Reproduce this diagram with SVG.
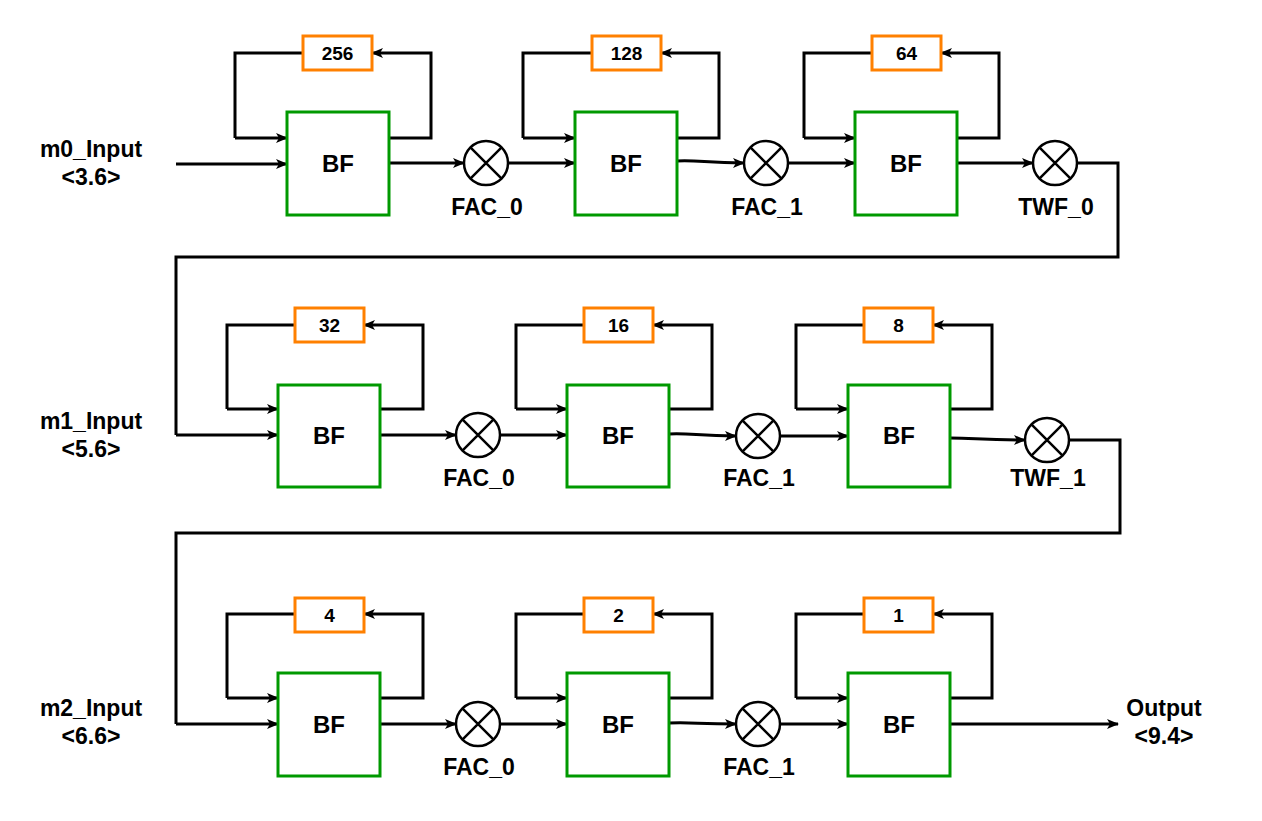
<svg xmlns="http://www.w3.org/2000/svg" width="1262" height="821" viewBox="0 0 1262 821">
<defs>
<marker id="ah" viewBox="0 0 12 10" refX="11" refY="5" markerWidth="12" markerHeight="10" markerUnits="userSpaceOnUse" orient="auto">
<path d="M0,0 L12,5 L0,10 L3,5 Z" fill="#000"/>
</marker>
<style>
.bf{fill:#fff;stroke:#009900;stroke-width:3}
.dl{fill:#fff;stroke:#ff8000;stroke-width:3}
.w{fill:none;stroke:#000;stroke-width:3}
.a{fill:none;stroke:#000;stroke-width:3;marker-end:url(#ah)}
.m{fill:#fff;stroke:#000;stroke-width:2.5}
text{font-family:"Liberation Sans",Arial,sans-serif;font-weight:bold;fill:#000;text-anchor:middle}
.t1{font-size:24px}
.t2{font-size:19px}
.t3{font-size:23px}
</style>
</defs>
<rect width="1262" height="821" fill="#fff"/>

<g id="connectors">
<!-- row 1 -->
<path class="a" d="M176,164 H287"/>
<path class="w" d="M303,53 H235 V138"/><path class="a" d="M235,138 H287"/>
<path class="a" d="M389,138 H431 V53 H372"/>
<path class="a" d="M389,163 H464"/>
<path class="a" d="M508,163 H575"/>
<path class="w" d="M592,53 H523 V138"/><path class="a" d="M523,138 H575"/>
<path class="a" d="M677,138 H719 V53 H661"/>
<path class="a" d="M677,161 C700,160 705,163 744,163"/>
<path class="a" d="M788,163 H855"/>
<path class="w" d="M872,53 H804 V138"/><path class="a" d="M804,138 H855"/>
<path class="a" d="M957,138 H999 V53 H941"/>
<path class="a" d="M957,163 H1033"/>
<path class="w" d="M1077,163 H1118 V257 H176 V435"/>
<!-- row 2 -->
<path class="a" d="M176,435 H278"/>
<path class="w" d="M295,325 H227 V409"/><path class="a" d="M227,409 H278"/>
<path class="a" d="M380,409 H423 V325 H364"/>
<path class="a" d="M380,435 H456"/>
<path class="a" d="M500,435 H567"/>
<path class="w" d="M584,325 H516 V409"/><path class="a" d="M516,409 H567"/>
<path class="a" d="M669,409 H712 V325 H653"/>
<path class="a" d="M669,434 C692,433 697,436 736,436"/>
<path class="a" d="M780,436 H848"/>
<path class="w" d="M864,325 H796 V409"/><path class="a" d="M796,409 H848"/>
<path class="a" d="M950,409 H992 V325 H933"/>
<path class="a" d="M950,438 C975,438 980,440 1025,440"/>
<path class="w" d="M1069,440 H1120 V533 H176 V724"/>
<!-- row 3 -->
<path class="a" d="M176,724 H278"/>
<path class="w" d="M295,614 H227 V698"/><path class="a" d="M227,698 H278"/>
<path class="a" d="M380,698 H423 V614 H364"/>
<path class="a" d="M380,724 H456"/>
<path class="a" d="M500,724 H567"/>
<path class="w" d="M584,614 H516 V698"/><path class="a" d="M516,698 H567"/>
<path class="a" d="M669,698 H712 V614 H653"/>
<path class="a" d="M669,723 C692,722 697,724 736,724"/>
<path class="a" d="M780,724 H848"/>
<path class="w" d="M864,614 H796 V698"/><path class="a" d="M796,698 H848"/>
<path class="a" d="M950,698 H992 V614 H933"/>
<path class="a" d="M950,724 H1118"/>
</g>

<!-- labels -->
<g id="lbl-m0"><text class="t3" x="91" y="157">m0_Input</text><text class="t3" x="91" y="185">&lt;3.6&gt;</text></g>
<g id="lbl-m1"><text class="t3" x="91" y="429">m1_Input</text><text class="t3" x="91" y="457">&lt;5.6&gt;</text></g>
<g id="lbl-m2"><text class="t3" x="91" y="716">m2_Input</text><text class="t3" x="91" y="744">&lt;6.6&gt;</text></g>
<g id="lbl-out"><text class="t3" x="1164" y="716">Output</text><text class="t3" x="1164" y="744">&lt;9.4&gt;</text></g>

<!-- row 1 nodes -->
<g id="bf1"><rect class="bf" x="287" y="112" width="102" height="103"/><text class="t1" x="338" y="172">BF</text></g>
<g id="d256"><rect class="dl" x="303" y="36" width="69" height="34"/><text class="t2" x="337.5" y="60">256</text></g>
<g id="bf2"><rect class="bf" x="575" y="112" width="102" height="103"/><text class="t1" x="626" y="172">BF</text></g>
<g id="d128"><rect class="dl" x="592" y="36" width="69" height="34"/><text class="t2" x="626.5" y="60">128</text></g>
<g id="bf3"><rect class="bf" x="855" y="112" width="102" height="103"/><text class="t1" x="906" y="172">BF</text></g>
<g id="d64"><rect class="dl" x="872" y="36" width="69" height="34"/><text class="t2" x="906.5" y="60">64</text></g>
<g id="m1a"><circle class="m" cx="486" cy="163" r="22"/><path class="m" d="M470.4,147.4 L501.6,178.6 M501.6,147.4 L470.4,178.6"/><text class="t3" x="487" y="215">FAC_0</text></g>
<g id="m1b"><circle class="m" cx="766" cy="163" r="22"/><path class="m" d="M750.4,147.4 L781.6,178.6 M781.6,147.4 L750.4,178.6"/><text class="t3" x="767" y="215">FAC_1</text></g>
<g id="m1c"><circle class="m" cx="1055" cy="163" r="22"/><path class="m" d="M1039.4,147.4 L1070.6,178.6 M1070.6,147.4 L1039.4,178.6"/><text class="t3" x="1056" y="215">TWF_0</text></g>

<!-- row 2 nodes -->
<g id="bf4"><rect class="bf" x="278" y="385" width="102" height="102"/><text class="t1" x="329" y="444">BF</text></g>
<g id="d32"><rect class="dl" x="295" y="308" width="69" height="34"/><text class="t2" x="329.5" y="332">32</text></g>
<g id="bf5"><rect class="bf" x="567" y="385" width="102" height="102"/><text class="t1" x="618" y="444">BF</text></g>
<g id="d16"><rect class="dl" x="584" y="308" width="69" height="34"/><text class="t2" x="618.5" y="332">16</text></g>
<g id="bf6"><rect class="bf" x="848" y="385" width="102" height="102"/><text class="t1" x="899" y="444">BF</text></g>
<g id="d8"><rect class="dl" x="864" y="308" width="69" height="34"/><text class="t2" x="898.5" y="332">8</text></g>
<g id="m2a"><circle class="m" cx="478" cy="435" r="22"/><path class="m" d="M462.4,419.4 L493.6,450.6 M493.6,419.4 L462.4,450.6"/><text class="t3" x="479" y="486">FAC_0</text></g>
<g id="m2b"><circle class="m" cx="758" cy="436" r="22"/><path class="m" d="M742.4,420.4 L773.6,451.6 M773.6,420.4 L742.4,451.6"/><text class="t3" x="759" y="486">FAC_1</text></g>
<g id="m2c"><circle class="m" cx="1047" cy="440" r="22"/><path class="m" d="M1031.4,424.4 L1062.6,455.6 M1062.6,424.4 L1031.4,455.6"/><text class="t3" x="1048" y="486">TWF_1</text></g>

<!-- row 3 nodes -->
<g id="bf7"><rect class="bf" x="278" y="673" width="102" height="103"/><text class="t1" x="329" y="733">BF</text></g>
<g id="d4"><rect class="dl" x="295" y="598" width="69" height="34"/><text class="t2" x="329.5" y="622">4</text></g>
<g id="bf8"><rect class="bf" x="567" y="673" width="102" height="103"/><text class="t1" x="618" y="733">BF</text></g>
<g id="d2"><rect class="dl" x="584" y="598" width="69" height="34"/><text class="t2" x="618.5" y="622">2</text></g>
<g id="bf9"><rect class="bf" x="848" y="673" width="102" height="103"/><text class="t1" x="899" y="733">BF</text></g>
<g id="d1"><rect class="dl" x="864" y="598" width="69" height="34"/><text class="t2" x="898.5" y="622">1</text></g>
<g id="m3a"><circle class="m" cx="478" cy="724" r="22"/><path class="m" d="M462.4,708.4 L493.6,739.6 M493.6,708.4 L462.4,739.6"/><text class="t3" x="479" y="775">FAC_0</text></g>
<g id="m3b"><circle class="m" cx="758" cy="724" r="22"/><path class="m" d="M742.4,708.4 L773.6,739.6 M773.6,708.4 L742.4,739.6"/><text class="t3" x="759" y="775">FAC_1</text></g>
</svg>
